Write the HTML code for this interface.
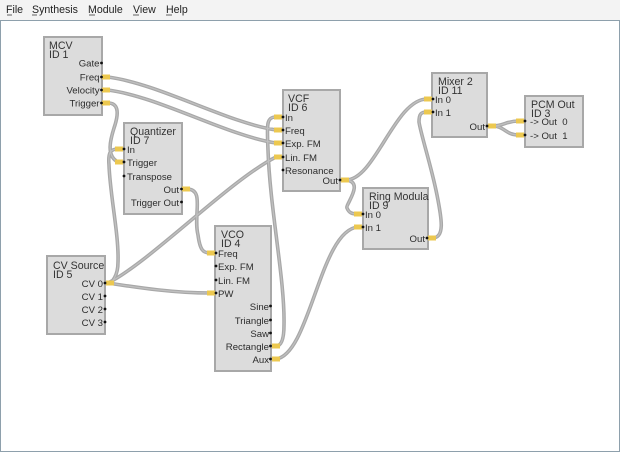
<!DOCTYPE html>
<html><head><meta charset="utf-8"><style>
html,body{margin:0;padding:0;background:#fff}
svg{display:block}
text{font-family:"Liberation Sans",sans-serif;font-size:9.6px;fill:#2c2c2c;white-space:pre}
.m{font-size:10.6px;fill:#222}
.t{font-size:10.6px;fill:#333}
.box{fill:#dcdcdc;stroke:#a8a8a8;stroke-width:2}
.w1{fill:none;stroke:#a8a8a8;stroke-width:3.6}
.w2{fill:none;stroke:#c0c0c0;stroke-width:1.2}
.y{fill:#ecc850}
.e{text-anchor:end}
</style></head><body>
<svg width="620" height="453" viewBox="0 0 620 453" xmlns="http://www.w3.org/2000/svg">
<defs>
<path id="wires" d="M108 77C160 84 225 122 276 130M108 90C160 97 225 135 276 143M108 103C118 103 119 112 115 125C110 140 106 156 118 162M118 149C110 149 108 153 109 165C110 195 119 235 118 262C118 276 112 283 108 283M108 283C150 262 230 180 276 157M108 283C140 288 175 293 210 293M187 189C205 189 193 215 198 235C200 250 203 253 210 253M276 117C266 117 267 125 268 150C270 210 285 280 284 325C284 340 281 346 276 346M276 359C310 355 320 230 358 227M346 180C375 180 395 99 427 99M346 180C365 182 345 205 347 208C349 213 352 214 358 214M432 238C445 238 442 220 437 195C431 165 421 135 419 122C419 114 421 112 427 112M492 126C505 126 505 121 519 121M492 126C505 126 505 135 519 135"/>
</defs>
<rect x="0" y="0" width="620" height="20" fill="#f3f3f3"/>
<rect x="0.5" y="20.5" width="619" height="431" fill="#fff" stroke="#8ea0ac"/>
<text class="m" x="6" y="13">File</text><text class="m" x="32" y="13">Synthesis</text><text class="m" x="88" y="13">Module</text><text class="m" x="133" y="13">View</text><text class="m" x="166" y="13">Help</text>
<path d="M7 15h5M32 15h5M89 15h6M133 15h6M166 15h6" stroke="#333" stroke-width=".7"/>

<rect class="box" x="44" y="37" width="58" height="78"/>
<rect class="box" x="124" y="123" width="58" height="91"/>
<rect class="box" x="283" y="90" width="57" height="101"/>
<rect class="box" x="363" y="188" width="65" height="61"/>
<rect class="box" x="432" y="73" width="55" height="64"/>
<rect class="box" x="525" y="96" width="58" height="51"/>
<rect class="box" x="47" y="256" width="58" height="78"/>
<rect class="box" x="215" y="226" width="56" height="145"/>

<use href="#wires" class="w1"/><use href="#wires" class="w2"/>

<g class="y">
<rect x="102" y="74.500" width="8" height="5"/><rect x="102" y="87.500" width="8" height="5"/><rect x="102" y="100.500" width="8" height="5"/>
<rect x="115" y="146.500" width="8" height="5"/><rect x="115" y="159.500" width="8" height="5"/><rect x="182" y="186.500" width="8" height="5"/>
<rect x="274" y="114.500" width="8" height="5"/><rect x="274" y="127.500" width="8" height="5"/><rect x="274" y="140.500" width="8" height="5"/><rect x="274" y="154.500" width="8" height="5"/>
<rect x="341" y="177.500" width="8" height="5"/>
<rect x="354" y="211.500" width="8" height="5"/><rect x="354" y="224.500" width="8" height="5"/><rect x="428" y="235.500" width="8" height="5"/>
<rect x="424" y="96.500" width="8" height="5"/><rect x="424" y="109.500" width="8" height="5"/><rect x="488" y="123.500" width="8" height="5"/>
<rect x="516" y="118.500" width="8" height="5"/><rect x="516" y="132.500" width="8" height="5"/>
<rect x="106" y="280.500" width="8" height="5"/>
<rect x="207" y="250.500" width="8" height="5"/><rect x="207" y="290.500" width="8" height="5"/>
<rect x="272" y="343.500" width="8" height="5"/><rect x="272" y="356.500" width="8" height="5"/>
</g>
<g fill="#111">
<circle cx="101.500" cy="63" r="1.400"/><circle cx="101.500" cy="77" r="1.400"/><circle cx="101.500" cy="90" r="1.400"/><circle cx="101.500" cy="103" r="1.400"/>
<circle cx="124" cy="149" r="1.400"/><circle cx="124" cy="162" r="1.400"/><circle cx="124" cy="176" r="1.400"/><circle cx="181.500" cy="189" r="1.400"/><circle cx="181.500" cy="202" r="1.400"/>
<circle cx="283" cy="117" r="1.400"/><circle cx="283" cy="130" r="1.400"/><circle cx="283" cy="143" r="1.400"/><circle cx="283" cy="157" r="1.400"/><circle cx="283" cy="170" r="1.400"/><circle cx="340" cy="180" r="1.400"/>
<circle cx="363" cy="214" r="1.400"/><circle cx="363" cy="227" r="1.400"/><circle cx="427" cy="238" r="1.400"/>
<circle cx="433" cy="99" r="1.400"/><circle cx="433" cy="112" r="1.400"/><circle cx="487" cy="126" r="1.400"/>
<circle cx="525" cy="121" r="1.400"/><circle cx="525" cy="135" r="1.400"/>
<circle cx="105" cy="283" r="1.400"/><circle cx="105" cy="296" r="1.400"/><circle cx="105" cy="309" r="1.400"/><circle cx="105" cy="322" r="1.400"/>
<circle cx="216" cy="253" r="1.400"/><circle cx="216" cy="266" r="1.400"/><circle cx="216" cy="280" r="1.400"/><circle cx="216" cy="293" r="1.400"/>
<circle cx="270.500" cy="306" r="1.400"/><circle cx="270.500" cy="320" r="1.400"/><circle cx="270.500" cy="333" r="1.400"/><circle cx="270.500" cy="346" r="1.400"/><circle cx="270.500" cy="359" r="1.400"/>
</g>

<text class="t" x="49" y="49">MCV</text><text class="t" x="49" y="58">ID 1</text>
<text class="e" x="99.500" y="66.500">Gate</text><text class="e" x="99.500" y="80.500">Freq</text><text class="e" x="99.500" y="93.500">Velocity</text><text class="e" x="99.500" y="106.500">Trigger</text>

<text class="t" x="130" y="135">Quantizer</text><text class="t" x="130" y="144">ID 7</text>
<text x="127" y="153">In</text><text x="127" y="166">Trigger</text><text x="127" y="180">Transpose</text><text class="e" x="179" y="193">Out</text><text class="e" x="179" y="206">Trigger Out</text>

<text class="t" x="288" y="102">VCF</text><text class="t" x="288" y="111">ID 6</text>
<text x="285" y="121">In</text><text x="285" y="134">Freq</text><text x="285" y="147">Exp. FM</text><text x="285" y="161">Lin. FM</text><text x="285" y="174">Resonance</text><text class="e" x="338" y="184">Out</text>

<text class="t" x="369" y="200">Ring Modula</text><text class="t" x="369" y="209">ID 9</text>
<text x="365" y="218">In 0</text><text x="365" y="231">In 1</text><text class="e" x="425" y="242">Out</text>

<text class="t" x="438" y="85">Mixer 2</text><text class="t" x="438" y="94">ID 11</text>
<text x="435" y="103">In 0</text><text x="435" y="116">In 1</text><text class="e" x="485" y="130">Out</text>

<text class="t" x="531" y="108">PCM Out</text><text class="t" x="531" y="117">ID 3</text>
<text x="530" y="125">-&gt; Out  0</text><text x="530" y="139">-&gt; Out  1</text>

<text class="t" x="53" y="269">CV Source</text><text class="t" x="53" y="278">ID 5</text>
<text class="e" x="103" y="287">CV 0</text><text class="e" x="103" y="300">CV 1</text><text class="e" x="103" y="313">CV 2</text><text class="e" x="103" y="326">CV 3</text>

<text class="t" x="221" y="238">VCO</text><text class="t" x="221" y="247">ID 4</text>
<text x="218" y="257">Freq</text><text x="218" y="270">Exp. FM</text><text x="218" y="284">Lin. FM</text><text x="218" y="297">PW</text>
<text class="e" x="269" y="310">Sine</text><text class="e" x="269" y="324">Triangle</text><text class="e" x="269" y="337">Saw</text><text class="e" x="269" y="350">Rectangle</text><text class="e" x="269" y="363">Aux</text>
</svg>
</body></html>
